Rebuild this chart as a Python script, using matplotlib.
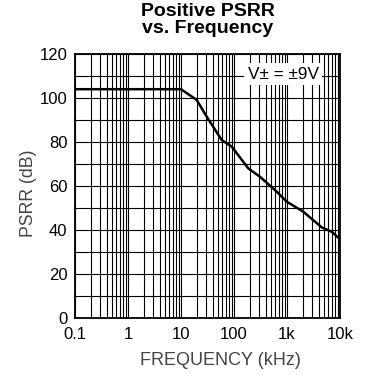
import numpy as np
import matplotlib
matplotlib.use("Agg")
import matplotlib.pyplot as plt
from matplotlib.ticker import FixedLocator, NullFormatter

plt.rcParams['font.family'] = ['Liberation Sans', 'DejaVu Sans']

# curve
freq_khz = [0.1, 1, 10, 19.8, 30.5, 58.6, 90.5, 186, 309, 640, 986, 2030, 4520, 6970, 10000]
psrr_db = [104, 104, 104, 99.1, 91.5, 80.9, 77.9, 68, 64.2, 57.4, 52.9, 48.3, 41.2, 39.2, 35.8]

xticks = [0.1, 1, 10, 100, 1000, 10000]
xticklabels = ['0.1', '1', '10', '100', '1k', '10k']
yticks = [0, 20, 40, 60, 80, 100, 120]

fig = plt.figure(figsize=(3.7, 3.75), dpi=100)
ax = fig.add_axes([0.2027, 0.152, 0.7163, 0.704])

ax.plot(freq_khz, psrr_db, color='black', lw=1.8, zorder=3)
ax.set_xscale('log')
ax.set_xlim(0.1, 10000)
ax.set_ylim(0, 120)

ax.set_xticks(xticks)
ax.set_xticklabels(xticklabels)
minors = [m * 10.0 ** e for e in range(-1, 4) for m in range(2, 10)]
ax.xaxis.set_minor_locator(FixedLocator(minors))
ax.xaxis.set_minor_formatter(NullFormatter())
ax.set_yticks(yticks)
ax.yaxis.set_minor_locator(FixedLocator(range(10, 120, 20)))

ax.grid(which='both', color='black', lw=0.8)
ax.tick_params(which='both', length=0, labelsize=12)
ax.tick_params(axis='x', pad=6.5)
ax.tick_params(axis='y', pad=5.5)
for s in ax.spines.values():
    s.set_linewidth(1.3)

ax.set_xlabel('FREQUENCY (kHz)', color='#444444', fontsize=13)
ax.xaxis.set_label_coords(0.547, -0.128)
ax.set_ylabel('PSRR (dB)', color='#444444', fontsize=12.7)
ax.yaxis.set_label_coords(-0.143, 0.473)
ax.set_title('Positive PSRR\nvs. Frequency', fontsize=14, fontweight='bold',
             linespacing=1.0, pad=15)

ax.text(0.785, 0.924, 'V\u00b1 = \u00b19V', transform=ax.transAxes, ha='center', va='center',
        fontsize=12.4, bbox=dict(facecolor='white', edgecolor='none', pad=2.5), zorder=4)

fig.savefig('out.png', dpi=100)
